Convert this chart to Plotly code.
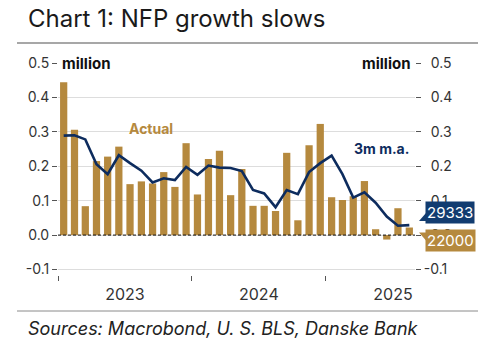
import plotly.graph_objects as go

# ---- data ----
months = ["2023-01-01", "2023-02-01", "2023-03-01", "2023-04-01", "2023-05-01",
          "2023-06-01", "2023-07-01", "2023-08-01", "2023-09-01", "2023-10-01",
          "2023-11-01", "2023-12-01", "2024-01-01", "2024-02-01", "2024-03-01",
          "2024-04-01", "2024-05-01", "2024-06-01", "2024-07-01", "2024-08-01",
          "2024-09-01", "2024-10-01", "2024-11-01", "2024-12-01", "2025-01-01",
          "2025-02-01", "2025-03-01", "2025-04-01", "2025-05-01", "2025-06-01",
          "2025-07-01", "2025-08-01"]

actual = [0.444, 0.306, 0.084, 0.215, 0.228, 0.257, 0.148, 0.156, 0.150, 0.183,
          0.140, 0.267, 0.118, 0.221, 0.245, 0.116, 0.192, 0.085, 0.085, 0.070,
          0.239, 0.043, 0.261, 0.323, 0.110, 0.102, 0.113, 0.157, 0.017, -0.013,
          0.078, 0.022]

ma3 = [0.289, 0.290, 0.278, 0.206, 0.177, 0.232, 0.209, 0.187, 0.153, 0.165,
       0.160, 0.198, 0.175, 0.202, 0.196, 0.195, 0.186, 0.131, 0.121, 0.081,
       0.131, 0.119, 0.183, 0.209, 0.231, 0.177, 0.109, 0.124, 0.094, 0.054,
       0.027, 0.029]

last_actual_label = "22000"
last_ma_label = "29333"

y_ticks = [-0.1, 0.0, 0.1, 0.2, 0.3, 0.4, 0.5]
y_ticktext_left = [f"{v:.1f}" for v in y_ticks]
y_ticktext_right = [("\u2002" if v >= 0 else "") + f"{v:.1f}" for v in y_ticks]

# ---- style ----
GOLD = "#B5893E"
NAVY = "#0D2C5E"
NAVY_BOX = "#123C70"
FONT = "Inter, Lato, sans-serif"

W, H = 484, 350
L, R, T, B = 58, 69, 63, 75
PW, PH = W - L - R, H - T - B


def px(xp):
    return (xp - L) / PW


def py(yp):
    return (H - B - yp) / PH


fig = go.Figure()

fig.add_trace(go.Bar(
    x=months, y=actual, marker_color=GOLD, marker_line_width=0,
    xperiod="M1", xperiodalignment="middle", name="Actual",
))
fig.add_trace(go.Scatter(
    x=months, y=ma3, mode="lines", line=dict(color=NAVY, width=2.6),
    xperiod="M1", xperiodalignment="middle", name="3m m.a.", yaxis="y2",
))

yr = [-0.116, 0.5]
axis_common = dict(
    range=yr, tickvals=y_ticks, ticks="outside", ticklen=5,
    tickcolor="#555", tickwidth=1, zeroline=False, showline=False,
    tickfont=dict(family=FONT, size=14, color="#333"),
)

fig.update_layout(
    width=W, height=H, margin=dict(l=L, r=R, t=T, b=B),
    paper_bgcolor="white", plot_bgcolor="white",
    showlegend=False, bargap=0.33,
    xaxis=dict(
        range=["2023-01-01", "2025-09-01"], dtick="M12", tick0="2023-01-01",
        tickformat="%Y", ticklabelmode="period", ticks="outside", ticklen=5,
        tickcolor="#555", showgrid=False, zeroline=False, showline=False,
        tickfont=dict(family=FONT, size=16, color="#333"),
    ),
    yaxis=dict(side="left", showgrid=True, gridcolor="#DDDDDD", gridwidth=1,
               ticktext=y_ticktext_left, **axis_common),
    yaxis2=dict(side="right", overlaying="y", showgrid=False,
                ticktext=y_ticktext_right, **axis_common),
)

# dashed zero line
fig.add_shape(type="line", xref="paper", yref="y", x0=0, x1=1, y0=0, y1=0,
              line=dict(color="#111", width=1, dash="3px,2px"), layer="above")

# header / footer rules
fig.add_shape(type="line", xref="paper", yref="paper", x0=px(17), x1=px(478),
              y0=py(43), y1=py(43), line=dict(color="#8A8A8A", width=1.5))
fig.add_shape(type="line", xref="paper", yref="paper", x0=px(17), x1=px(478),
              y0=py(311), y1=py(311), line=dict(color="#8A8A8A", width=1))

# title and source
fig.add_annotation(text="Chart 1: NFP growth slows", xref="paper", yref="paper",
                   x=px(26), y=py(18), xanchor="left", yanchor="middle",
                   showarrow=False, font=dict(family=FONT, size=24, color="#1A1A1A"))
fig.add_annotation(text="<i>Sources: Macrobond, U. S. BLS, Danske Bank</i>",
                   xref="paper", yref="paper", x=px(26), y=py(328),
                   xanchor="left", yanchor="middle", showarrow=False,
                   font=dict(family=FONT, size=18, color="#222"))

# unit labels
fig.add_annotation(text="<b>million</b>", xref="paper", yref="y", x=0, y=0.5,
                   xanchor="left", yanchor="middle", xshift=2, showarrow=False,
                   font=dict(family=FONT, size=15, color="#111"))
fig.add_annotation(text="<b>million</b>", xref="paper", yref="y", x=1, y=0.5,
                   xanchor="right", yanchor="middle", xshift=-2, showarrow=False,
                   font=dict(family=FONT, size=15, color="#111"))

# series labels
fig.add_annotation(text="<b>Actual</b>", xref="paper", yref="paper",
                   x=px(151), y=py(128), xanchor="center", yanchor="middle",
                   showarrow=False, font=dict(family=FONT, size=14, color=GOLD))
fig.add_annotation(text="<b>3m m.a.</b>", xref="paper", yref="paper",
                   x=px(381), y=py(148), xanchor="center", yanchor="middle",
                   showarrow=False, font=dict(family=FONT, size=14, color=NAVY))

# end-value labels with pointers
fig.add_annotation(text=last_ma_label, xref="paper", yref="y2", x=1, y=ma3[-1],
                   xanchor="left", yanchor="middle", xshift=10, yshift=13,
                   showarrow=False, bgcolor=NAVY_BOX, borderpad=1,
                   font=dict(family=FONT, size=15, color="white"))
fig.add_annotation(text=last_actual_label, xref="paper", yref="y", x=1, y=actual[-1],
                   xanchor="left", yanchor="middle", xshift=10, yshift=-13,
                   showarrow=False, bgcolor=GOLD, borderpad=1,
                   font=dict(family=FONT, size=15, color="white"))
fig.add_shape(type="path", xref="paper", yref="y2", xsizemode="pixel",
              ysizemode="pixel", xanchor=1, yanchor=ma3[-1],
              path="M 11 12 L 4 4 L 11 4 Z", fillcolor=NAVY_BOX, line_width=0)
fig.add_shape(type="path", xref="paper", yref="y", xsizemode="pixel",
              ysizemode="pixel", xanchor=1, yanchor=actual[-1],
              path="M 4 -5 L 11 -5 L 11 -13 Z", fillcolor=GOLD, line_width=0)

fig.write_html("out.html")
